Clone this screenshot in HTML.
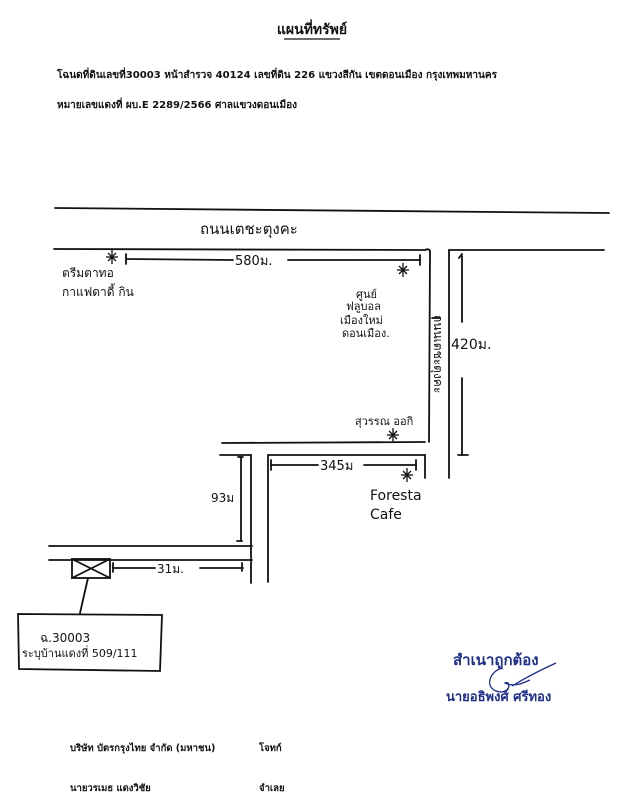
<!DOCTYPE html>
<html><head><meta charset="utf-8">
<style>
html,body{margin:0;padding:0;background:#fff;}
svg{display:block;}
.t{font-family:"DejaVu Sans","Liberation Sans",sans-serif;font-weight:bold;fill:#111;}
.h{font-family:"DejaVu Sans","Liberation Sans",sans-serif;fill:#111;}
.b{font-family:"DejaVu Sans","Liberation Sans",sans-serif;font-weight:bold;fill:#1e2f8c;}
</style></head>
<body>
<svg width="626" height="800" viewBox="0 0 626 800" xmlns="http://www.w3.org/2000/svg">
<rect width="626" height="800" fill="#fff"/>
<!-- header -->
<text class="t" x="312" y="34" font-size="14" text-anchor="middle">แผนที่ทรัพย์</text>
<line x1="284" y1="39" x2="340" y2="39" stroke="#111" stroke-width="1.2"/>
<text class="t" x="57" y="78" font-size="10" textLength="440" lengthAdjust="spacingAndGlyphs">โฉนดที่ดินเลขที่30003  หน้าสำรวจ 40124 เลขที่ดิน  226   แขวงสีกัน  เขตดอนเมือง  กรุงเทพมหานคร</text>
<text class="t" x="57" y="108" font-size="10" textLength="240" lengthAdjust="spacingAndGlyphs">หมายเลขแดงที่    ผบ.E 2289/2566  ศาลแขวงดอนเมือง</text>

<g stroke="#111" stroke-width="1.8" fill="none" stroke-linecap="round">
<!-- main road -->
<line x1="55" y1="208" x2="609" y2="213"/>
<path d="M54 249 L425 250 Q430 248 430 252"/>
<line x1="430" y1="252" x2="429" y2="442"/>
<line x1="449" y1="250" x2="604" y2="250"/>
<line x1="449" y1="250" x2="449" y2="478"/>
<!-- 420 dim -->
<line x1="462" y1="256" x2="462" y2="322"/>
<line x1="462" y1="378" x2="462" y2="455"/>
<line x1="458" y1="455" x2="468" y2="455"/>
<line x1="459" y1="258" x2="462" y2="254"/>
<line x1="432" y1="318" x2="440" y2="318"/>
<!-- 580 dim -->
<line x1="126" y1="259" x2="233" y2="260"/>
<line x1="288" y1="260" x2="420" y2="260"/>
<line x1="126" y1="254" x2="126" y2="264"/>
<line x1="420" y1="255" x2="420" y2="265"/>
<!-- lower roads -->
<line x1="222" y1="443" x2="425" y2="442"/>
<line x1="220" y1="455" x2="251" y2="455"/>
<line x1="251" y1="455" x2="251" y2="583"/>
<line x1="268" y1="455" x2="425" y2="455"/>
<line x1="268" y1="455" x2="268" y2="582"/>
<line x1="425" y1="455" x2="425" y2="478"/>
<!-- 345 dim -->
<line x1="271" y1="465" x2="318" y2="465"/>
<line x1="364" y1="465" x2="416" y2="465"/>
<line x1="271" y1="460" x2="271" y2="470"/>
<line x1="416" y1="460" x2="416" y2="470"/>
<!-- 93 dim -->
<line x1="241" y1="457" x2="241" y2="541"/>
<line x1="237" y1="541" x2="242" y2="541"/>
<line x1="238" y1="457" x2="243" y2="457"/>
<!-- soi -->
<line x1="49" y1="546" x2="252" y2="546"/>
<line x1="49" y1="560" x2="252" y2="560"/>
<rect x="72" y="559" width="38" height="19"/>
<line x1="72" y1="559" x2="110" y2="578"/>
<line x1="110" y1="559" x2="72" y2="578"/>
<line x1="113" y1="568" x2="155" y2="568"/>
<line x1="200" y1="568" x2="243" y2="568"/>
<line x1="113" y1="563" x2="113" y2="572"/>
<line x1="242" y1="563" x2="242" y2="571"/>
<line x1="88" y1="578" x2="80" y2="613"/>
<path d="M18 614 L162 615 L160 671 L19 669 Z"/>
</g>
<!-- stars -->
<g stroke="#111" stroke-width="1.3">
<g transform="translate(112,257)"><line x1="-6" y1="0" x2="6" y2="0"/><line x1="0" y1="-7" x2="0" y2="7"/><line x1="-4" y1="-4" x2="4" y2="4"/><line x1="4" y1="-4" x2="-4" y2="4"/></g>
<g transform="translate(403,270)"><line x1="-6" y1="0" x2="6" y2="0"/><line x1="0" y1="-7" x2="0" y2="7"/><line x1="-4" y1="-4" x2="4" y2="4"/><line x1="4" y1="-4" x2="-4" y2="4"/></g>
<g transform="translate(393,435)"><line x1="-6" y1="0" x2="6" y2="0"/><line x1="0" y1="-7" x2="0" y2="7"/><line x1="-4" y1="-4" x2="4" y2="4"/><line x1="4" y1="-4" x2="-4" y2="4"/></g>
<g transform="translate(407,475)"><line x1="-6" y1="0" x2="6" y2="0"/><line x1="0" y1="-7" x2="0" y2="7"/><line x1="-4" y1="-4" x2="4" y2="4"/><line x1="4" y1="-4" x2="-4" y2="4"/></g>
</g>
<!-- handwritten labels -->
<g class="h">
<text x="200" y="234" font-size="15">ถนนเตชะตุงคะ</text>
<text x="235" y="265" font-size="13">580ม.</text>
<text x="62" y="277" font-size="12">ตรีมตาทอ</text>
<text x="62" y="296" font-size="12">กาแฟดาดี้ กิน</text>
<text x="356" y="298" font-size="11">ศูนย์</text>
<text x="346" y="310" font-size="11">ฟลูบอล</text>
<text x="340" y="324" font-size="11">เมืองใหม่</text>
<text x="342" y="337" font-size="11">ดอนเมือง.</text>
<text transform="translate(434,315) rotate(90)" font-size="12">ถนนเตชะตุงคะ</text>
<text x="451" y="349" font-size="14">420ม.</text>
<text x="355" y="425" font-size="11">สุวรรณ ออกิ</text>
<text x="320" y="470" font-size="13">345ม</text>
<text x="370" y="500" font-size="14">Foresta</text>
<text x="370" y="519" font-size="14">Cafe</text>
<text x="211" y="502" font-size="12">93ม</text>
<text x="157" y="573" font-size="12">31ม.</text>
<text x="40" y="642" font-size="12">ฉ.30003</text>
<text x="22" y="657" font-size="11">ระบุบ้านแดงที่ 509/111</text>
</g>
<!-- signature -->
<text class="b" x="453" y="665" font-size="15">สำเนาถูกต้อง</text>
<text class="b" x="446" y="701" font-size="13">นายอธิพงศ์ ศรีทอง</text>
<g stroke="#1e2f8c" stroke-width="1.3" fill="none">
<path d="M502 668 C488 672 484 690 500 692 C512 692 510 680 505 683 C515 688 525 682 530 680"/>
<path d="M512 686 C530 675 545 668 556 663"/>
</g>
<!-- footer -->
<g class="t" font-size="9.5">
<text x="70" y="751">บริษัท บัตรกรุงไทย จำกัด (มหาชน)</text>
<text x="259" y="751">โจทก์</text>
<text x="70" y="791">นายวรเมธ แดงวิชัย</text>
<text x="259" y="791">จำเลย</text>
</g>
</svg>
</body></html>
